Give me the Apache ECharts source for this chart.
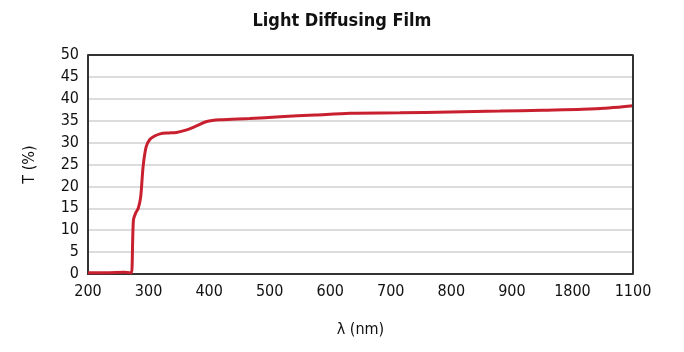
<!DOCTYPE html>
<html>
<head>
<meta charset="utf-8">
<script src="https://cdn.jsdelivr.net/npm/echarts@6/dist/echarts.min.js"></script>
<style>
  html, body { margin: 0; padding: 0; background: #fff; }
  #chart { width: 684px; height: 352px; }
</style>
</head>
<body>
<div id="chart"></div>
<script>
// wavelength (nm) and transmission (%)
const wavelengths = [200, 230, 260, 270, 272, 275, 279, 283, 287, 291, 296, 302, 310, 319, 333, 346, 363, 379, 396, 418, 467, 517, 575, 633, 715, 798, 880, 950, 1017, 1060, 1100]
const transmission = [0.3, 0.3, 0.4, 0.3, 0.3, 12.3, 14.0, 15.0, 17.6, 24.5, 29.0, 30.7, 31.5, 32.0, 32.2, 32.3, 32.9, 33.8, 34.8, 35.2, 35.5, 35.9, 36.3, 36.7, 36.8, 37.0, 37.2, 37.4, 37.6, 37.9, 38.4]
const xTickLabels = { 200: '200', 300: '300', 400: '400', 500: '500', 600: '600', 700: '700', 800: '800', 900: '900', 1000: '1800', 1100: '1100' }

const font = '"DejaVu Sans Condensed", sans-serif'

const myChart = echarts.init(document.getElementById('chart'))
myChart.setOption({
  animation: false,
  title: {
    text: 'Light Diffusing Film',
    left: 'center',
    top: 7,
    textStyle: { fontFamily: font, fontSize: 18, fontWeight: 'bold', color: '#111' },
  },
  grid: { left: 88, right: 51, top: 55, bottom: 78 },
  xAxis: {
    type: 'value',
    min: 200,
    max: 1100,
    interval: 100,
    name: 'λ (nm)',
    nameLocation: 'middle',
    nameGap: 48,
    nameTextStyle: { fontFamily: font, fontSize: 16, color: '#111' },
    axisLine: { lineStyle: { color: '#333', width: 2 } },
    axisTick: { show: false },
    splitLine: { show: false },
    axisLabel: {
      fontFamily: font,
      fontSize: 16,
      color: '#111',
      margin: 10,
      formatter: (v) => xTickLabels[v] || '',
    },
  },
  yAxis: {
    type: 'value',
    min: 0,
    max: 50,
    interval: 5,
    name: 'T (%)',
    nameLocation: 'middle',
    nameGap: 50,
    nameTextStyle: { fontFamily: font, fontSize: 16, color: '#111' },
    axisLine: { show: true, lineStyle: { color: '#333', width: 2 } },
    axisTick: { show: false },
    splitLine: { lineStyle: { color: '#dcdcdc', width: 2 } },
    axisLabel: { fontFamily: font, fontSize: 16, color: '#111', margin: 9 },
  },
  series: [
    {
      type: 'line',
      data: wavelengths.map((w, i) => [w, transmission[i]]),
      smooth: 0.3,
      symbol: 'none',
      lineStyle: { color: '#c8202f', width: 3 },
    },
    {
      // frame around the plot: top and right edges
      type: 'line',
      data: [[200, 50], [1100, 50], [1100, 0]],
      symbol: 'none',
      silent: true,
      lineStyle: { color: '#333', width: 2 },
    },
  ],
})
</script>
</body>
</html>
